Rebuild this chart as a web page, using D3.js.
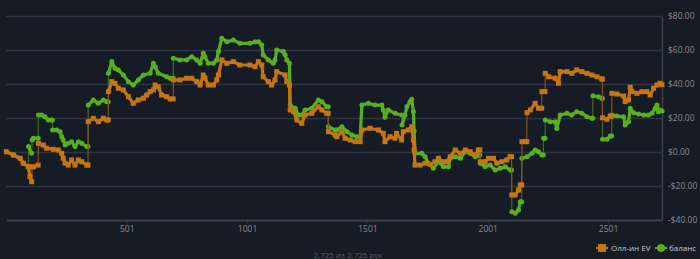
<!DOCTYPE html>
<html lang="en">
<meta charset="utf-8">
<style>
  body { margin: 0; background: #161c25; }
  svg { display: block; }
</style>
<body>
<div id="my_dataviz"></div>

<script src="https://d3js.org/d3.v7.min.js" type="text/javascript"></script>

<script type="text/javascript">

// tick labels
var yTicks = [-40, -20, 0, 20, 40, 60, 80]
var xTicks = [501, 1001, 1501, 2001, 2501]
var totalHands = 2725
var seriesNames = ["Олл-ин EV", "баланс"]

// all-in EV (hand number, dollars)
var evHands = [1, 30, 58, 71, 92, 99, 106, 108, 113, 133, 134, 154, 168, 196, 217, 231, 237, 245, 258, 272, 286, 300, 314, 335, 340,
  341, 362, 383, 404, 418, 424, 425, 439, 452, 466, 487, 508, 528, 549, 570, 584, 598, 612, 619, 632, 646, 667, 681, 694,
  695, 722, 750, 771, 792, 806, 819, 826, 840, 861, 875, 882, 896, 917, 944, 971, 1013, 1034, 1048, 1062, 1068, 1089, 1103,
  1117, 1124, 1159, 1166, 1177, 1180, 1194, 1208, 1228, 1242, 1270, 1297, 1312, 1332, 1338, 1339, 1367, 1374, 1395, 1408,
  1430, 1450, 1471, 1478, 1512, 1547, 1567, 1574, 1595, 1616, 1622, 1643, 1650, 1671, 1685, 1692, 1695, 1699, 1720, 1741,
  1762, 1782, 1796, 1817, 1831, 1845, 1866, 1887, 1908, 1928, 1949, 1962, 1968, 1970, 1990, 2004, 2025, 2039, 2060, 2080,
  2094, 2100, 2101, 2115, 2129, 2136, 2142, 2143, 2157, 2163, 2164, 2178, 2198, 2212, 2225, 2226, 2239, 2240, 2254, 2281,
  2295, 2302, 2330, 2350, 2371, 2392, 2413, 2434, 2455, 2475, 2477, 2478, 2496, 2510, 2516, 2517, 2538, 2565, 2572, 2586,
  2593, 2600, 2621, 2642, 2662, 2676, 2690, 2704, 2717, 2725]
var evValues = [0.0, -2.0, -3.9, -6.8, -8.9, -14.7, -17.7, -9.0, -8.9, -7.9, 4.9, 3.9, 2.0, 1.4, 1.0, -1.0, -3.9, -6.8, -7.9, -4.9, -7.9, -4.9, -5.9, -7.9, -7.9,
  17.7, 19.7, 17.7, 19.7, 18.7, 18.7, 35.4, 41.3, 40.3, 37.4, 36.4, 32.4, 28.5, 30.5, 31.5, 33.4, 35.4, 36.4, 39.3, 38.3, 33.4, 32.4, 31.1, 31.1,
  42.3, 42.3, 43.3, 43.3, 41.3, 39.3, 45.2, 43.4, 39.3, 39.3, 42.3, 45.2, 54.1, 52.1, 53.1, 51.1, 51.1, 50.1, 53.1, 51.1, 44.2, 41.3, 39.3,
  42.3, 47.2, 45.2, 41.3, 39.3, 24.6, 23.6, 18.7, 16.7, 21.6, 22.6, 26.5, 24.6, 22.6, 22.6, 11.8, 9.8, 8.8, 11.8, 7.9,
  6.9, 5.9, 5.9, 12.8, 13.8, 12.8, 10.8, 5.9, 8.8, 7.9, 10.8, 6.9, 11.8, 12.8, 14.7, 6.9, 1.0, -7.9, -7.9, -6.8,
  -7.5, -5.9, -3.9, -6.0, -5.9, -3.0, 1.0, -1.0, 1.0, 0.0, -2.0, 1.0, 1.0, -5.9, -5.9, -3.9, -3.9, -6.8, -5.9, -4.9,
  -2.9, -2.9, -25.5, -25.5, -22.6, -19.6, -19.6, 5.9, 5.9, 5.9, 23.0, 24.6, 28.5, 25.6, 25.6, 35.4, 35.4, 46.2, 44.2, 43.3,
  40.3, 47.2, 47.2, 46.2, 48.2, 47.2, 46.2, 45.2, 44.2, 42.9, 42.9, 20.0, 19.1, 21.0, 21.0, 34.4, 34.0, 32.8, 29.5, 30.5,
  38.0, 35.4, 34.4, 35.4, 35.4, 33.4, 37.4, 39.3, 40.3, 39.5]

// balance (hand number, dollars)
var balHands = [1, 30, 58, 71, 92, 93, 106, 108, 113, 133, 134, 147, 161, 175, 189, 192, 193, 210, 224, 231, 237, 245, 258, 272, 286, 300, 314, 335, 340,
  341, 362, 383, 404, 418, 424, 425, 439, 452, 466, 487, 508, 528, 549, 570, 598, 612, 619, 632, 667, 681, 694,
  695, 722, 750, 771, 792, 806, 819, 826, 840, 861, 875, 882, 896, 917, 944, 971, 1013, 1034, 1048, 1062, 1068, 1089, 1110,
  1117, 1124, 1152, 1159, 1166, 1177, 1180, 1201, 1214, 1228, 1242, 1270, 1297, 1312, 1332, 1338, 1339, 1367, 1374, 1395, 1416,
  1437, 1457, 1471, 1478, 1505, 1533, 1561, 1567, 1574, 1588, 1616, 1643, 1645, 1657, 1665, 1678, 1685, 1692, 1695, 1699, 1727,
  1741, 1754, 1775, 1796, 1817, 1838, 1845, 1866, 1887, 1908, 1928, 1949, 1962, 1968, 1970, 1990, 2011, 2032, 2053, 2074,
  2094, 2100, 2101, 2115, 2129, 2136, 2142, 2143, 2164, 2185, 2198, 2212, 2226, 2232, 2233, 2239, 2240, 2260, 2281, 2288,
  2302, 2330, 2350, 2371, 2392, 2413, 2434, 2437, 2438, 2461, 2475, 2477, 2478, 2496, 2510, 2516, 2517, 2538, 2565, 2572,
  2586, 2593, 2607, 2628, 2649, 2669, 2683, 2697, 2704, 2710, 2717, 2725]
var balValues = [0.0, -2.0, -3.9, -6.8, -8.9, 3.0, -1.0, 6.9, 7.9, 7.9, 21.6, 21.6, 20.6, 18.7, 18.7, 18.7, 12.8, 12.8, 11.8, 8.8, 6.9, 3.9, 4.9, 5.9, 3.0, 5.9, 4.9, 3.0, 3.0,
  27.5, 30.5, 28.5, 30.5, 29.5, 29.5, 46.2, 53.1, 49.2, 48.2, 45.2, 41.3, 39.3, 42.3, 45.2, 46.2, 52.1, 50.1, 46.2, 44.2, 43.3, 43.3,
  55.1, 54.1, 54.1, 56.0, 54.1, 52.1, 58.0, 56.0, 52.1, 52.1, 54.1, 59.0, 66.9, 64.8, 65.8, 63.9, 63.9, 64.8, 64.8, 62.9, 57.0, 54.1, 52.1,
  54.1, 60.0, 59.0, 57.0, 54.1, 52.1, 27.5, 25.6, 21.6, 21.6, 24.6, 25.6, 30.5, 29.5, 26.5, 26.5, 14.7, 12.8, 12.8, 14.7, 11.8,
  9.8, 8.8, 8.8, 27.5, 28.5, 27.5, 27.5, 24.6, 20.3, 24.6, 22.6, 21.6, 15.7, 21.6, 26.5, 29.5, 30.9, 23.6, 12.0, -1.0, -1.0,
  -3.0, -6.8, -9.8, -5.9, -8.9, -8.9, -3.9, -3.0, -3.9, 0.0, -1.0, -3.0, -2.0, -2.0, -6.8, -8.9, -7.9, -10.8, -9.8, -8.9,
  -10.8, -10.8, -35.4, -36.3, -34.4, -29.5, -29.5, -3.9, -3.0, -1.0, 1.0, 0.0, -2.0, -2.0, 7.9, 7.9, 18.7, 17.7, 17.7, 13.7,
  21.6, 22.6, 21.6, 23.6, 22.6, 20.6, 19.7, 19.7, 33.0, 32.4, 31.5, 31.5, 7.3, 7.3, 9.2, 9.2, 21.6, 21.0, 20.6, 15.7,
  17.7, 25.6, 23.0, 22.2, 21.6, 21.6, 22.6, 25.6, 27.5, 23.6, 24.6, 24.0]

var width = 700, height = 259
var plot = {left: 6, right: 662, top: 16, bottom: 220}
var font = "'Open Sans', sans-serif"

var svg = d3.select("#my_dataviz")
  .append("svg")
    .attr("width", width)
    .attr("height", height)

svg.append("rect")
  .attr("width", width)
  .attr("height", height)
  .attr("fill", "#161c25")

var x = d3.scaleLinear()
  .domain([1, totalHands])
  .range([plot.left + 0.4, plot.right])

var y = d3.scaleLinear()
  .domain([-40, 80])
  .range([plot.bottom - 0.5, plot.top])

// grid lines
svg.append("g")
  .selectAll("line")
  .data(yTicks.filter(function(d) { return d > -40 }))
  .enter()
  .append("line")
    .attr("x1", plot.left)
    .attr("x2", plot.right)
    .attr("y1", function(d) { return Math.round(y(d)) + 0.5 })
    .attr("y2", function(d) { return Math.round(y(d)) + 0.5 })
    .attr("stroke", "#2f3540")
    .attr("stroke-width", 1.5)

// right axis
var yAxis = svg.append("g")
  .attr("transform", "translate(" + plot.right + ",0)")
  .call(d3.axisRight(y).tickValues(yTicks).tickSize(0).tickPadding(6)
    .tickFormat(function(d) { return (d < 0 ? "-$" : "$") + Math.abs(d).toFixed(2) }))
yAxis.select(".domain").attr("stroke", "#3a404b").attr("stroke-width", 1.5)
yAxis.selectAll("text")
  .attr("fill", "#868b93")
  .style("font-family", font)
  .style("font-size", "8.5px")

// bottom axis
var xAxis = svg.append("g")
  .attr("transform", "translate(0," + plot.bottom + ")")
  .call(d3.axisBottom(x).tickValues(xTicks).tickSize(3).tickSizeOuter(0).tickPadding(3)
    .tickFormat(d3.format("d")))
xAxis.select(".domain").attr("stroke", "#3a404b").attr("stroke-width", 2)
xAxis.selectAll(".tick line").attr("stroke", "#3a404b")
xAxis.selectAll("text")
  .attr("fill", "#868b93")
  .style("font-family", font)
  .style("font-size", "8.5px")

function toPoints(hands, values) {
  return hands.map(function(h, i) { return {h: h, v: values[i]} })
}

var series = [
  {name: seriesNames[1], data: toPoints(balHands, balValues), color: "#58b01f", jump: "#3a6e22", marker: "circle"},
  {name: seriesNames[0], data: toPoints(evHands, evValues), color: "#c57512", jump: "#80531a", marker: "square"}
]

series.forEach(function(s) {
  var g = svg.append("g")
  var segs = d3.pairs(s.data)
  // jump segments (consecutive hands) drawn thin
  g.selectAll(".jump")
    .data(segs.filter(function(p) { return p[1].h - p[0].h <= 2 }))
    .enter()
    .append("line")
      .attr("x1", function(p) { return x(p[0].h) })
      .attr("x2", function(p) { return x(p[1].h) })
      .attr("y1", function(p) { return y(p[0].v) })
      .attr("y2", function(p) { return y(p[1].v) })
      .attr("stroke", s.jump)
      .attr("stroke-width", 1.2)
  // runs drawn thick
  g.selectAll(".run")
    .data(segs.filter(function(p) { return p[1].h - p[0].h > 2 }))
    .enter()
    .append("line")
      .attr("x1", function(p) { return x(p[0].h) })
      .attr("x2", function(p) { return x(p[1].h) })
      .attr("y1", function(p) { return y(p[0].v) })
      .attr("y2", function(p) { return y(p[1].v) })
      .attr("stroke", s.color)
      .attr("stroke-width", 3.2)
      .attr("stroke-linecap", "round")
  if (s.marker == "circle") {
    g.selectAll("circle")
      .data(s.data)
      .enter()
      .append("circle")
        .attr("cx", function(d) { return x(d.h) })
        .attr("cy", function(d) { return y(d.v) })
        .attr("r", 2.5)
        .attr("fill", s.color)
  } else {
    g.selectAll("rect")
      .data(s.data)
      .enter()
      .append("rect")
        .attr("x", function(d) { return x(d.h) - 2.5 })
        .attr("y", function(d) { return y(d.v) - 2.5 })
        .attr("width", 5)
        .attr("height", 5)
        .attr("fill", s.color)
  }
})

// legend
var legend = svg.append("g")
  .style("font-family", font)
  .style("font-size", "8px")

var lg1 = legend.append("g").attr("transform", "translate(602,248)")
lg1.append("line").attr("x1", -6).attr("x2", 6).attr("stroke", "#c57512").attr("stroke-width", 2)
lg1.append("rect").attr("x", -4).attr("y", -4).attr("width", 8).attr("height", 8).attr("fill", "#c57512")
lg1.append("text").attr("x", 9).attr("y", 3).attr("fill", "#c9ccd1").text(seriesNames[0])

var lg2 = legend.append("g").attr("transform", "translate(661,248)")
lg2.append("line").attr("x1", -6).attr("x2", 6).attr("stroke", "#58b01f").attr("stroke-width", 2)
lg2.append("circle").attr("r", 4).attr("fill", "#58b01f")
lg2.append("text").attr("x", 8).attr("y", 3).attr("fill", "#c9ccd1").text(seriesNames[1])

// footer
svg.append("text")
  .attr("x", 348)
  .attr("y", 258)
  .attr("text-anchor", "middle")
  .attr("fill", "#555b65")
  .style("font-family", font)
  .style("font-size", "8px")
  .text(d3.format(",")(totalHands) + " из " + d3.format(",")(totalHands) + " рук")

</script>

</body>
</html>
